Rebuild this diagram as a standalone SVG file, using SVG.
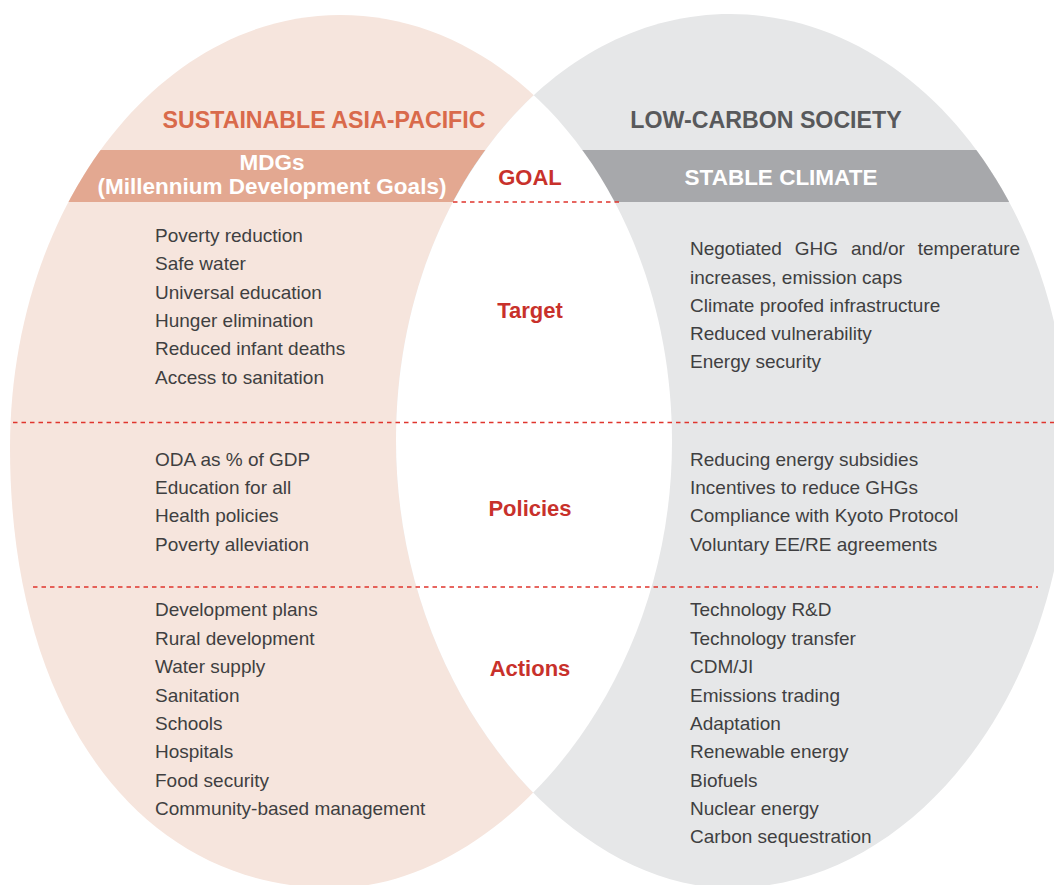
<svg xmlns="http://www.w3.org/2000/svg" width="1054" height="885" viewBox="0 0 1054 885">
<defs>
<style>
text{font-family:"Liberation Sans",Arial,sans-serif}
.t{font-size:19px;fill:#3f3f41}
.h{font-size:23.2px;font-weight:bold;text-anchor:middle}
.b{font-size:22.5px;font-weight:bold;fill:#ffffff;text-anchor:middle}
.r{font-size:22px;font-weight:bold;fill:#c8312b;text-anchor:middle}
.dash{stroke:#e0352d;stroke-width:1.3;stroke-dasharray:4.5 4;fill:none}
</style>
<clipPath id="clipL"><path d="M340,15 C523.4,15 672,206.2 672,442 C672,691.8 495.7,888 333,888 C139.2,888 10,712 10,448 C10,208.9 157.7,15 340,15 Z"/></clipPath>
<clipPath id="clipR"><path d="M730,14 C916.7,14 1068,207 1068,445 C1068,688.7 915.9,888 730,888 C569.7,888 396,690.9 396,440 C396,204.7 545.5,14 730,14 Z"/></clipPath>
</defs>
<rect width="1054" height="885" fill="#ffffff"/>
<g id="left-set">
<path d="M340,15 C523.4,15 672,206.2 672,442 C672,691.8 495.7,888 333,888 C139.2,888 10,712 10,448 C10,208.9 157.7,15 340,15 Z" fill="#f6e5dd"/>
<rect x="0" y="150" width="1054" height="52" fill="#e3a891" clip-path="url(#clipL)"/>
</g>
<g id="right-set">
<path d="M730,14 C916.7,14 1068,207 1068,445 C1068,688.7 915.9,888 730,888 C569.7,888 396,690.9 396,440 C396,204.7 545.5,14 730,14 Z" fill="#e6e7e8"/>
<rect x="0" y="150" width="1054" height="52" fill="#a7a8ab" clip-path="url(#clipR)"/>
</g>
<g id="overlap">
<path d="M340,15 C523.4,15 672,206.2 672,442 C672,691.8 495.7,888 333,888 C139.2,888 10,712 10,448 C10,208.9 157.7,15 340,15 Z" fill="#ffffff" clip-path="url(#clipR)"/>
</g>
<g id="connectors">
<line class="dash" x1="453" y1="202" x2="620" y2="202"/>
<line class="dash" x1="13" y1="422.5" x2="1054" y2="422.5"/>
<line class="dash" x1="33" y1="587" x2="1038" y2="587"/>
</g>
<g id="title-left"><text class="h" x="324" y="128" fill="#d96a4b">SUSTAINABLE ASIA-PACIFIC</text></g>
<g id="title-right"><text class="h" x="766" y="128" fill="#58595b">LOW-CARBON SOCIETY</text></g>
<g id="banner-left">
<text class="b" x="272" y="170">MDGs</text>
<text class="b" x="272" y="194">(Millennium Development Goals)</text>
</g>
<g id="banner-right"><text class="b" x="781" y="185">STABLE CLIMATE</text></g>
<g id="goal"><text class="r" x="530" y="185">GOAL</text></g>
<g id="target"><text class="r" x="530" y="318">Target</text></g>
<g id="policies"><text class="r" x="530" y="516">Policies</text></g>
<g id="actions"><text class="r" x="530" y="676">Actions</text></g>
<g id="left-target">
<text class="t" x="155" y="242">Poverty reduction</text>
<text class="t" x="155" y="270">Safe water</text>
<text class="t" x="155" y="299">Universal education</text>
<text class="t" x="155" y="327">Hunger elimination</text>
<text class="t" x="155" y="355">Reduced infant deaths</text>
<text class="t" x="155" y="384">Access to sanitation</text>
</g>
<g id="right-target">
<text class="t" x="690" y="255" word-spacing="7.6">Negotiated GHG and/or temperature</text>
<text class="t" x="690" y="284">increases, emission caps</text>
<text class="t" x="690" y="312">Climate proofed infrastructure</text>
<text class="t" x="690" y="340">Reduced vulnerability</text>
<text class="t" x="690" y="368">Energy security</text>
</g>
<g id="left-policies">
<text class="t" x="155" y="466">ODA as % of GDP</text>
<text class="t" x="155" y="494">Education for all</text>
<text class="t" x="155" y="522">Health policies</text>
<text class="t" x="155" y="551">Poverty alleviation</text>
</g>
<g id="right-policies">
<text class="t" x="690" y="466">Reducing energy subsidies</text>
<text class="t" x="690" y="494">Incentives to reduce GHGs</text>
<text class="t" x="690" y="522">Compliance with Kyoto Protocol</text>
<text class="t" x="690" y="551">Voluntary EE/RE agreements</text>
</g>
<g id="left-actions">
<text class="t" x="155" y="616">Development plans</text>
<text class="t" x="155" y="645">Rural development</text>
<text class="t" x="155" y="673">Water supply</text>
<text class="t" x="155" y="702">Sanitation</text>
<text class="t" x="155" y="730">Schools</text>
<text class="t" x="155" y="758">Hospitals</text>
<text class="t" x="155" y="787">Food security</text>
<text class="t" x="155" y="815">Community-based management</text>
</g>
<g id="right-actions">
<text class="t" x="690" y="616">Technology R&amp;D</text>
<text class="t" x="690" y="645">Technology transfer</text>
<text class="t" x="690" y="673">CDM/JI</text>
<text class="t" x="690" y="702">Emissions trading</text>
<text class="t" x="690" y="730">Adaptation</text>
<text class="t" x="690" y="758">Renewable energy</text>
<text class="t" x="690" y="787">Biofuels</text>
<text class="t" x="690" y="815">Nuclear energy</text>
<text class="t" x="690" y="843">Carbon sequestration</text>
</g>
</svg>
